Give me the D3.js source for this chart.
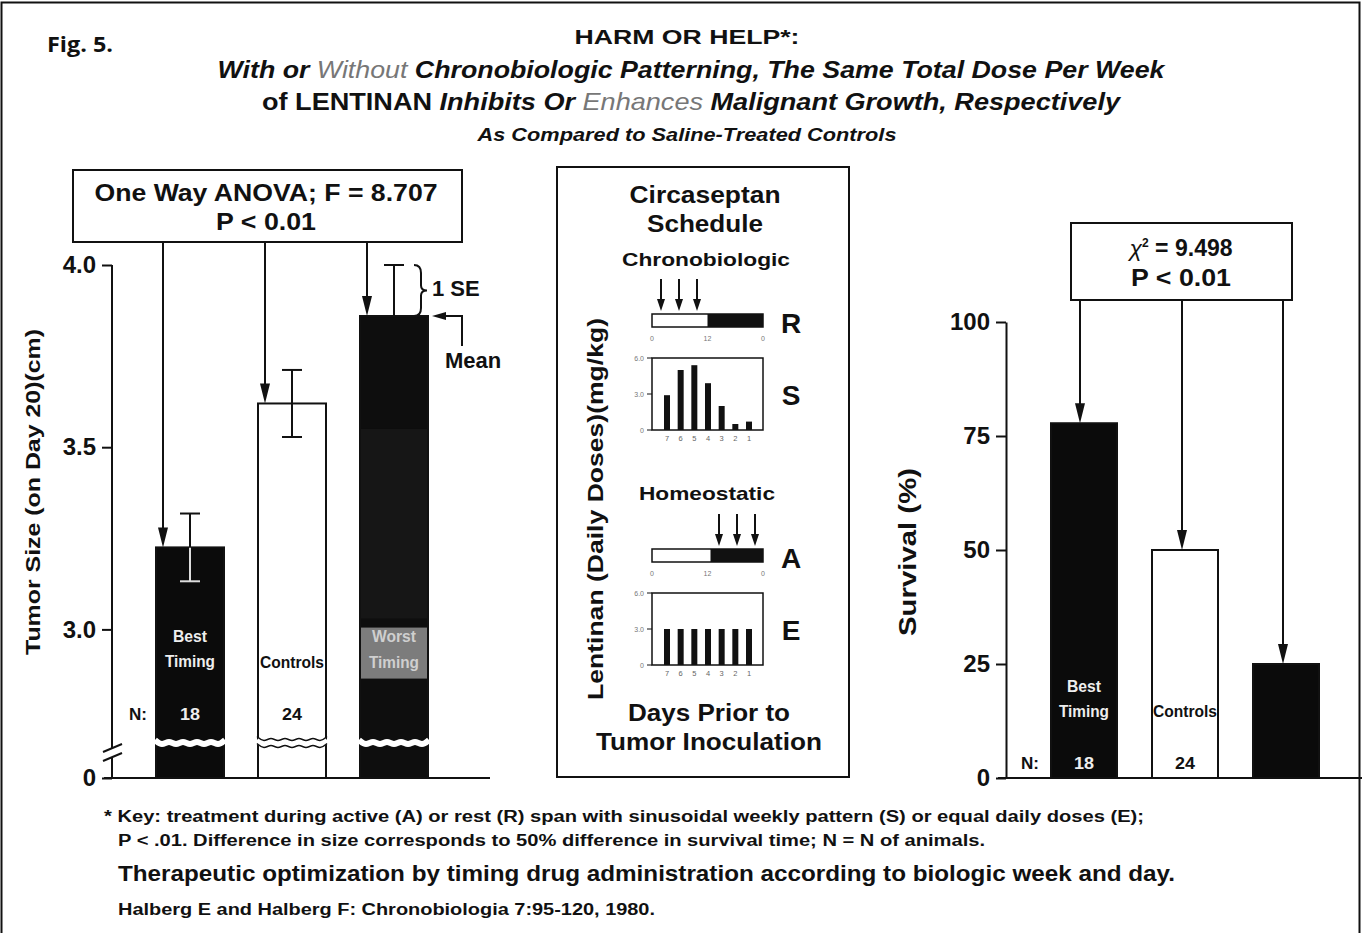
<!DOCTYPE html>
<html><head><meta charset="utf-8">
<script src="https://cdn.jsdelivr.net/npm/d3@7"></script>
<style>
body{margin:0;background:#fff}
svg{display:block}
text{font-family:"Liberation Sans",Arial,Helvetica,sans-serif;font-weight:bold;fill:#111}
</style>
</head><body>
<svg id="c" width="1362" height="933"></svg>
<script>
// ---------- data ----------
const groups = ["Best Timing", "Controls", "Worst Timing"];
const tumorMean = [3.225, 3.62, 3.86];
const tumorSE = [0.093, 0.092, 0.14];
const groupN = ["18", "24", ""];
const survivalPct = [77.8, 50, 25];
const tumorTicks = [0, 3.0, 3.5, 4.0];
const survivalTicks = [0, 25, 50, 75, 100];
const days = ["7", "6", "5", "4", "3", "2", "1"];
const sinusoidalDose = [2.9, 5.0, 5.4, 3.9, 2.0, 0.5, 0.7];
const equalDose = [3.0, 3.0, 3.0, 3.0, 3.0, 3.0, 3.0];
const doseTicks = [0, 3.0, 6.0];
const clockTicks = ["0", "12", "0"];

const svg = d3.select("#c");
const ink = "#111";

// outer frame
svg.append("rect").attr("x",1.5).attr("y",2.5).attr("width",1358).attr("height",960)
  .attr("fill","none").attr("stroke",ink).attr("stroke-width",2);

// ---------- titles ----------
svg.append("text").attr("x",47).attr("y",52).style("font-family","'Open Sans',sans-serif")
  .style("font-size","21px").attr("textLength",66).attr("lengthAdjust","spacingAndGlyphs").text("Fig. 5.");

function richLine(y, size, len, cx, parts){
  const t = svg.append("text").attr("x",cx).attr("y",y).attr("text-anchor","middle")
    .style("font-size",size+"px").attr("textLength",len).attr("lengthAdjust","spacingAndGlyphs");
  parts.forEach(p=>{
    const s = t.append("tspan").text(p[0]);
    if(p[1].includes("i")) s.style("font-style","italic");
    if(p[1].includes("l")) s.style("font-weight","normal").style("fill","#777");
  });
  return t;
}
richLine(44, 21, 225, 687, [["HARM OR HELP*:",""]]);
richLine(78, 24, 947, 691, [["With or ","i"],["Without","il"],[" Chronobiologic Patterning, The Same Total Dose Per Week","i"]]);
richLine(110, 24, 858, 691, [["of LENTINAN ",""],["Inhibits Or ","i"],["Enhances","il"],[" Malignant Growth, Respectively","i"]]);
richLine(141, 18, 419, 687, [["As Compared to Saline-Treated Controls","i"]]);

// ---------- helpers ----------
function arrowDown(x, y0, y1, hw, hl, sw){
  svg.append("line").attr("x1",x).attr("x2",x).attr("y1",y0).attr("y2",y1-hl+2)
    .attr("stroke",ink).attr("stroke-width",sw||2);
  svg.append("path").attr("d",`M${x-hw},${y1-hl} L${x+hw},${y1-hl} L${x},${y1} Z`).attr("fill",ink);
}
function wavePath(x0, x1, y, amp, n){
  const pts = [];
  const step = (x1-x0)/(n*2);
  for(let i=0;i<=n*2;i++) pts.push([x0+i*step, y + (i%2===0? -amp: amp)]);
  return d3.line().curve(d3.curveBasis)(pts);
}

// ---------- left chart: tumor size ----------
const yT = d3.scaleLinear().domain([0, 2.68, 4.0]).range([778, 746, 265]);
const xT = d3.scalePoint().domain(groups).range([190, 394]);
const bwL = 68;
const fills = ["#0b0b0b", "#fff", "#0e0e0e"];

const gL = svg.append("g");
groups.forEach((g,i)=>{
  gL.append("rect").attr("x",xT(g)-bwL/2).attr("y",yT(tumorMean[i]))
    .attr("width",bwL).attr("height",yT(0)-yT(tumorMean[i]))
    .attr("fill",fills[i]).attr("stroke",ink).attr("stroke-width",2);
});
// worst timing shading
gL.append("rect").attr("x",xT(groups[2])-bwL/2+1).attr("y",yT(3.55)).attr("width",bwL-2)
  .attr("height",yT(3.03)-yT(3.55)).attr("fill","#161616");
gL.append("rect").attr("x",xT(groups[2])-bwL/2+1).attr("y",yT(3.005)).attr("width",bwL-2)
  .attr("height",yT(2.865)-yT(3.005)).attr("fill","#7c7c7c");

// error bars
groups.forEach((g,i)=>{
  const x = xT(g);
  const lo = tumorMean[i]-tumorSE[i];
  const hi = tumorMean[i]+tumorSE[i];
  if(i!==2){
    const c = i===0 ? "#ddd" : ink;
    gL.append("line").attr("x1",x).attr("x2",x).attr("y1",yT(tumorMean[i])).attr("y2",yT(lo))
      .attr("stroke",c).attr("stroke-width",2);
    gL.append("line").attr("x1",x-10).attr("x2",x+10).attr("y1",yT(lo)).attr("y2",yT(lo))
      .attr("stroke",c).attr("stroke-width",2);
  }
  gL.append("line").attr("x1",x).attr("x2",x).attr("y1",yT(tumorMean[i])).attr("y2",yT(hi))
    .attr("stroke",ink).attr("stroke-width",2);
  gL.append("line").attr("x1",x-10).attr("x2",x+10).attr("y1",yT(hi)).attr("y2",yT(hi))
    .attr("stroke",ink).attr("stroke-width",2);
});

// breaks in bars
groups.forEach((g,i)=>{
  const x0 = xT(g)-bwL/2-1, x1 = xT(g)+bwL/2+1, y = yT(2.68)-3;
  gL.append("path").attr("d",wavePath(x0,x1,y,3,5)).attr("fill","none")
    .attr("stroke","#fff").attr("stroke-width",6);
  if(i===1){
    [-3.5,3.5].forEach(o=>gL.append("path").attr("d",wavePath(x0,x1,y+o,3,5)).attr("fill","none")
      .attr("stroke",ink).attr("stroke-width",1.5));
  }
});

// axis
const axL = d3.axisLeft(yT).tickValues(tumorTicks)
  .tickFormat(d=> d===0 ? "0" : d3.format(".1f")(d)).tickSize(10).tickSizeOuter(0).tickPadding(6);
const gAxL = svg.append("g").attr("transform","translate(112,0)").call(axL);
gAxL.select(".domain").remove();
gAxL.selectAll(".tick line").attr("stroke",ink).attr("stroke-width",2);
gAxL.selectAll(".tick text").style("font-size","24px").style("font-family","'Liberation Sans',Arial,sans-serif")
  .style("font-weight","bold").attr("fill",ink);
svg.append("line").attr("x1",112).attr("x2",112).attr("y1",yT(4.0)).attr("y2",yT(0))
  .attr("stroke",ink).attr("stroke-width",2);
// axis break
svg.append("rect").attr("x",106).attr("y",yT(2.68)+2).attr("width",12).attr("height",9).attr("fill","#fff");
[0,9].forEach(o=>svg.append("line").attr("x1",103).attr("x2",122)
  .attr("y1",yT(2.68)+6+o).attr("y2",yT(2.68)-2+o).attr("stroke",ink).attr("stroke-width",2));
svg.append("line").attr("x1",104).attr("x2",490).attr("y1",yT(0)).attr("y2",yT(0))
  .attr("stroke",ink).attr("stroke-width",2);

svg.append("text").attr("transform",`translate(40,${492}) rotate(-90)`).attr("text-anchor","middle")
  .style("font-size","21px").attr("textLength",326).attr("lengthAdjust","spacingAndGlyphs")
  .text("Tumor Size (on Day 20)(cm)");

function barLabel(x, y, txt, col, len){
  svg.append("text").attr("x",x).attr("y",y).attr("text-anchor","middle").style("font-size","17px")
    .style("fill",col).attr("textLength",len).attr("lengthAdjust","spacingAndGlyphs").text(txt);
}
barLabel(xT(groups[0]), 642, "Best", "#eee", 34);
barLabel(xT(groups[0]), 667, "Timing", "#eee", 50);
barLabel(xT(groups[1]), 668, "Controls", ink, 64);
barLabel(xT(groups[2]), 642, "Worst", "#cfcfcf", 44);
barLabel(xT(groups[2]), 668, "Timing", "#cfcfcf", 50);
barLabel(138, 720, "N:", ink, 18);
groups.forEach((g,i)=>{ if(groupN[i]) barLabel(xT(g), 720, groupN[i], i===0?"#eee":ink, 20); });

// ANOVA box
svg.append("rect").attr("x",73).attr("y",170).attr("width",389).attr("height",72)
  .attr("fill","#fff").attr("stroke",ink).attr("stroke-width",2);
svg.append("text").attr("x",266).attr("y",201).attr("text-anchor","middle").style("font-size","24px")
  .attr("textLength",343).attr("lengthAdjust","spacingAndGlyphs").text("One Way ANOVA; F = 8.707");
svg.append("text").attr("x",266).attr("y",230).attr("text-anchor","middle").style("font-size","24px")
  .attr("textLength",100).attr("lengthAdjust","spacingAndGlyphs").text("P < 0.01");
groups.forEach((g,i)=>arrowDown(xT(g)-27, 242, yT(tumorMean[i]), 5, 20, 2));

// 1 SE brace & Mean annotation
const xw = xT(groups[2]);
const yTop = yT(tumorMean[2]+tumorSE[2]), yMean = yT(tumorMean[2]);
const ym = (yTop+yMean)/2;
svg.append("path").attr("d",`M${xw+20},${yTop} Q${xw+27},${yTop} ${xw+27},${yTop+8} L${xw+27},${ym-5} Q${xw+27},${ym} ${xw+33},${ym} Q${xw+27},${ym} ${xw+27},${ym+5} L${xw+27},${yMean-8} Q${xw+27},${yMean} ${xw+20},${yMean}`)
  .attr("fill","none").attr("stroke",ink).attr("stroke-width",2);
svg.append("text").attr("x",432).attr("y",296).style("font-size","22px").text("1 SE");
svg.append("path").attr("d",`M${xw+68},${yMean+30} L${xw+68},${yMean} L${xw+52},${yMean}`)
  .attr("fill","none").attr("stroke",ink).attr("stroke-width",2);
svg.append("path").attr("d",`M${xw+52},${yMean-4} L${xw+52},${yMean+4} L${xw+38},${yMean} Z`).attr("fill",ink);
svg.append("text").attr("x",445).attr("y",368).style("font-size","22px").text("Mean");

// ---------- middle panel ----------
svg.append("rect").attr("x",557).attr("y",167).attr("width",292).attr("height",610)
  .attr("fill","none").attr("stroke",ink).attr("stroke-width",2);
function ctext(x,y,size,len,txt){
  svg.append("text").attr("x",x).attr("y",y).attr("text-anchor","middle").style("font-size",size+"px")
    .attr("textLength",len).attr("lengthAdjust","spacingAndGlyphs").text(txt);
}
ctext(705,203,23,151,"Circaseptan");
ctext(705,232,23,116,"Schedule");
ctext(706,266,19,168,"Chronobiologic");
ctext(707,500,19,136,"Homeostatic");
ctext(709,721,23,162,"Days Prior to");
ctext(709,750,23,226,"Tumor Inoculation");
svg.append("text").attr("transform",`translate(603,${509}) rotate(-90)`).attr("text-anchor","middle")
  .style("font-size","22px").attr("textLength",382).attr("lengthAdjust","spacingAndGlyphs")
  .text("Lentinan (Daily Doses)(mg/kg)");

const xClock = d3.scalePoint().domain([0,1,2]).range([652,763]);
function clockBar(y, split, label, arrowXs){
  svg.append("rect").attr("x",xClock(0)).attr("y",y).attr("width",xClock(2)-xClock(0)).attr("height",13)
    .attr("fill","#fff").attr("stroke",ink).attr("stroke-width",1.5);
  svg.append("rect").attr("x",split).attr("y",y).attr("width",xClock(2)-split).attr("height",13).attr("fill",ink);
  clockTicks.forEach((t,i)=>svg.append("text").attr("x",xClock(i)).attr("y",y+27).attr("text-anchor","middle")
    .style("font-size","7px").style("font-weight","normal").style("fill","#777").text(t));
  svg.append("text").attr("x",791).attr("y",y+19).attr("text-anchor","middle").style("font-size","28px").text(label);
  arrowXs.forEach(ax=>arrowDown(ax, y-35, y-3, 4, 12, 2));
}
clockBar(314, xClock(1), "R", [661,679,697]);
clockBar(549, xClock(1)+3, "A", [719,737,755]);

const xDay = d3.scalePoint().domain(days).range([667,749]);
function doseChart(y0, y1, values, label){
  const yS = d3.scaleLinear().domain([0,6]).range([y1,y0]);
  svg.append("rect").attr("x",652).attr("y",y0).attr("width",111).attr("height",y1-y0)
    .attr("fill","#fff").attr("stroke",ink).attr("stroke-width",1.5);
  days.forEach((d,i)=>svg.append("rect").attr("x",xDay(d)-3).attr("y",yS(values[i])).attr("width",6)
    .attr("height",yS(0)-yS(values[i])).attr("fill",ink));
  doseTicks.forEach(t=>{
    svg.append("line").attr("x1",647).attr("x2",652).attr("y1",yS(t)).attr("y2",yS(t)).attr("stroke",ink);
    svg.append("text").attr("x",644).attr("y",yS(t)+2.5).attr("text-anchor","end").style("font-size","7px")
      .style("font-weight","normal").style("fill","#777").text(t===0?"0":d3.format(".1f")(t));
  });
  days.forEach(d=>svg.append("text").attr("x",xDay(d)).attr("y",y1+11).attr("text-anchor","middle")
    .style("font-size","7.5px").style("font-weight","normal").style("fill","#666").text(d));
  svg.append("text").attr("x",791).attr("y",(y0+y1)/2+11).attr("text-anchor","middle").style("font-size","28px").text(label);
}
doseChart(358, 430, sinusoidalDose, "S");
doseChart(593, 665, equalDose, "E");

// ---------- right chart: survival ----------
const yS2 = d3.scaleLinear().domain([0,100]).range([778,322]);
const xS2 = d3.scalePoint().domain(groups).range([1084,1286]);
const bwR = 66;
const fillsR = ["#0b0b0b","#fff","#0b0b0b"];
groups.forEach((g,i)=>{
  svg.append("rect").attr("x",xS2(g)-bwR/2).attr("y",yS2(survivalPct[i])).attr("width",bwR)
    .attr("height",yS2(0)-yS2(survivalPct[i])).attr("fill",fillsR[i]).attr("stroke",ink).attr("stroke-width",2);
});
const axR = d3.axisLeft(yS2).tickValues(survivalTicks).tickSize(10).tickSizeOuter(0).tickPadding(6);
const gAxR = svg.append("g").attr("transform","translate(1006,0)").call(axR);
gAxR.select(".domain").attr("stroke",ink).attr("stroke-width",2);
gAxR.selectAll(".tick line").attr("stroke",ink).attr("stroke-width",2);
gAxR.selectAll(".tick text").style("font-size","24px").style("font-family","'Liberation Sans',Arial,sans-serif")
  .style("font-weight","bold").attr("fill",ink);
svg.append("line").attr("x1",998).attr("x2",1362).attr("y1",yS2(0)).attr("y2",yS2(0)).attr("stroke",ink).attr("stroke-width",2);
svg.append("text").attr("transform",`translate(916,552) rotate(-90)`).attr("text-anchor","middle")
  .style("font-size","23px").attr("textLength",168).attr("lengthAdjust","spacingAndGlyphs").text("Survival (%)");

barLabel(xS2(groups[0]), 692, "Best", "#eee", 34);
barLabel(xS2(groups[0]), 717, "Timing", "#eee", 50);
barLabel(xS2(groups[1]), 717, "Controls", ink, 64);
barLabel(1030, 769, "N:", ink, 18);
groups.forEach((g,i)=>{ if(groupN[i]) barLabel(xS2(g), 769, groupN[i], i===0?"#eee":ink, 20); });

svg.append("rect").attr("x",1071).attr("y",223).attr("width",221).attr("height",77)
  .attr("fill","#fff").attr("stroke",ink).attr("stroke-width",2);
const chi = svg.append("text").attr("x",1181).attr("y",256).attr("text-anchor","middle").style("font-size","23px");
chi.append("tspan").text("χ").style("font-style","italic").style("font-weight","normal");
chi.append("tspan").text("2").attr("dy",-9).style("font-size","12px");
chi.append("tspan").text(" = 9.498").attr("dy",9);
svg.append("text").attr("x",1181).attr("y",286).attr("text-anchor","middle").style("font-size","24px")
  .attr("textLength",100).attr("lengthAdjust","spacingAndGlyphs").text("P < 0.01");
groups.forEach((g,i)=>arrowDown(xS2(g)-3+(i===0?-1:0), 300, yS2(survivalPct[i]), 5, 20, 2));

// ---------- footnotes ----------
function foot(x,y,size,len,txt){
  svg.append("text").attr("x",x).attr("y",y).style("font-size",size+"px")
    .attr("textLength",len).attr("lengthAdjust","spacingAndGlyphs").text(txt);
}
foot(104,822,16,1040,"* Key: treatment during active (A) or rest (R) span with sinusoidal weekly pattern (S) or equal daily doses (E);");
foot(118,846,16,867,"P < .01.  Difference in size corresponds to 50% difference in survival time; N = N of animals.");
foot(118,881,22,1057,"Therapeutic optimization by timing drug administration according to biologic week and day.");
foot(118,915,16,537,"Halberg E and Halberg F: Chronobiologia 7:95-120, 1980.");
</script>
</body></html>
